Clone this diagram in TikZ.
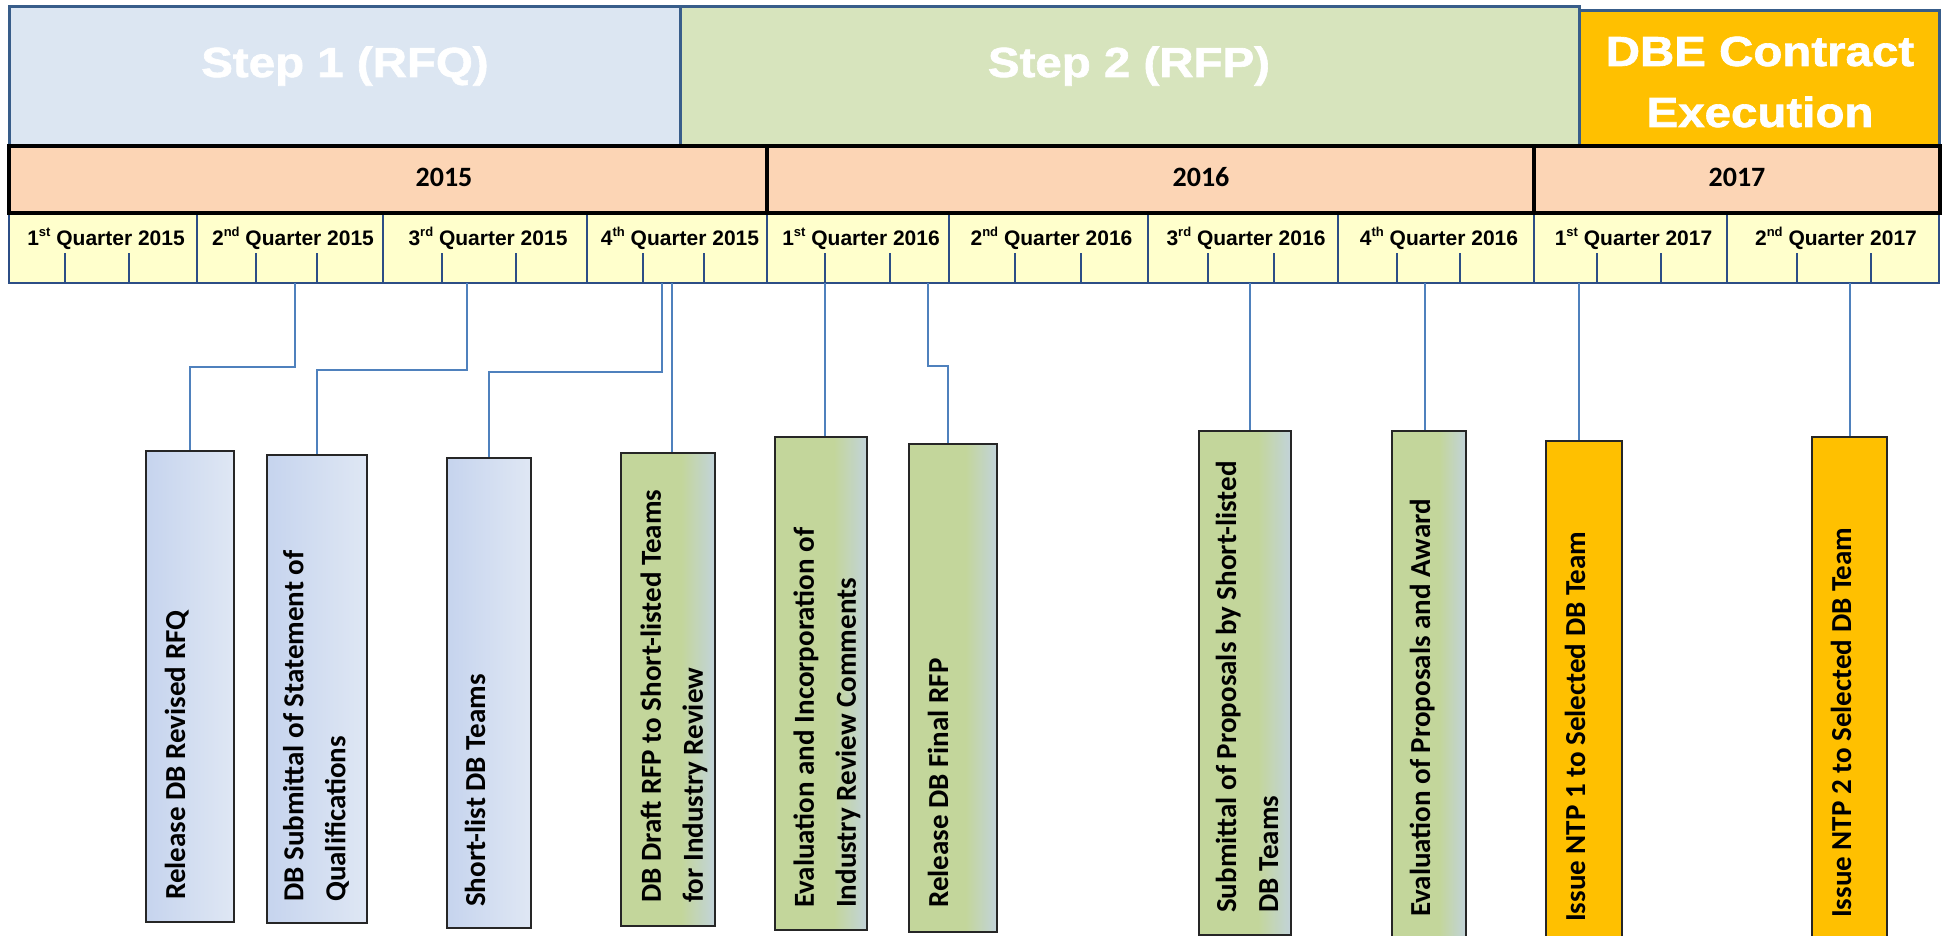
\documentclass[tikz,border=0pt]{standalone}
\usepackage{fontspec}
\setmainfont{Liberation Sans}
\newfontfamily\barfont{Carlito}
\newfontfamily\stepfont{Liberation Sans}[FakeStretch=1.13,FakeBold=1.5]
\definecolor{stepblue}{HTML}{DCE6F2}
\definecolor{stepgreen}{HTML}{D7E4BD}
\definecolor{amber}{HTML}{FFC000}
\definecolor{stepline}{HTML}{385D8A}
\definecolor{yearfill}{HTML}{FCD5B5}
\definecolor{qfill}{HTML}{FFFFCC}
\definecolor{qline}{HTML}{2C4E86}
\definecolor{linkblue}{HTML}{4F81BD}
\definecolor{barblueL}{HTML}{C6D4EE}
\definecolor{barblueR}{HTML}{DFE7F4}
\definecolor{bargreen}{HTML}{C3D69B}
\definecolor{bargrey}{HTML}{C2D3DA}
\pgfdeclarehorizontalshading{greenbar}{100bp}{color(0bp)=(bargreen); color(25bp)=(bargreen); color(57bp)=(bargreen); color(75bp)=(bargrey); color(100bp)=(bargrey)}
\newcommand{\qsup}[1]{\raisebox{0.42em}{\fontsize{13}{13}\selectfont #1}}
\tikzstyle{phase}=[draw=stepline,line width=3pt]
\tikzstyle{phasetext}=[text=white,inner sep=0pt,font=\stepfont\bfseries\fontsize{42}{61}\selectfont]
\tikzstyle{yearcell}=[draw=black,line width=4pt,fill=yearfill]
\tikzstyle{yeartext}=[inner sep=0pt,font=\barfont\bfseries\fontsize{28}{34}\selectfont]
\tikzstyle{qcell}=[draw=qline,line width=2.5pt,fill=qfill]
\tikzstyle{qtext}=[inner sep=0pt,font=\bfseries\fontsize{21}{25}\selectfont]
\tikzstyle{qtick}=[draw=qline,line width=2.5pt]
\tikzstyle{link}=[draw=linkblue,line width=1.5pt]
\tikzstyle{bar}=[draw=black!85,line width=2pt,inner sep=0pt]
\tikzstyle{bluebar}=[left color=barblueL,right color=barblueR]
\tikzstyle{greenfill}=[shade,shading=greenbar]
\tikzstyle{ntpbar}=[fill=amber]
\tikzstyle{bartext}=[rotate=90,inner sep=0pt,align=left,font=\barfont\bfseries\fontsize{29}{42}\selectfont]

\begin{document}
\begin{tikzpicture}[x=1pt,y=-1pt]
    \useasboundingbox (0,0) rectangle (1946,936);
    \clip (0,0) rectangle (1946,936);
    % phase bands on top
    \draw[phase,fill=stepblue] (9,7) rectangle (680,146);
    \draw[phase,fill=stepgreen] (680,7) rectangle (1579,146);
    \draw[phase,fill=amber] (1579,11) rectangle (1939,146);
    \node[phasetext,anchor=base] (step1) at (345,77) {Step 1 (RFQ)};
    \node[phasetext,anchor=base] (step2) at (1129,77) {Step 2 (RFP)};
    \node[phasetext,align=center] (dbe) at (1760,82) {DBE Contract\\Execution};
    % quarters, then the ticks in them
    \foreach \xa/\xb/\name/\txt in {9/197/q1/{1\qsup{st} Quarter 2015}, 197/383/q2/{2\qsup{nd} Quarter 2015},
        383/587/q3/{3\qsup{rd} Quarter 2015}, 587/767/q4/{4\qsup{th} Quarter 2015},
        767/949/q5/{1\qsup{st} Quarter 2016}, 949/1148/q6/{2\qsup{nd} Quarter 2016},
        1148/1338/q7/{3\qsup{rd} Quarter 2016}, 1338/1534/q8/{4\qsup{th} Quarter 2016},
        1534/1727/q9/{1\qsup{st} Quarter 2017}, 1727/1939/q10/{2\qsup{nd} Quarter 2017}}
    {
        \draw[qcell] (\xa,213) rectangle (\xb,283);
        \node[qtext,anchor=base] (\name) at ({(\xa+\xb)/2+3},245) {\txt};
    }
    \foreach \x in {65,129,256,317,442,516,643,704,825,890,1015,1081,1208,1274,1397,1460,1597,1661,1797,1871}
        \draw[qtick] (\x,253) -- (\x,283);
    % years
    \foreach \xa/\xb/\tx/\yr in {9/767/444/2015, 767/1534/1201/2016, 1534/1940/1737/2017}
    {
        \draw[yearcell] (\xa,146) rectangle (\xb,213);
        \node[yeartext,anchor=base] (y\yr) at (\tx,187) {\yr};
    }
    % activity bars
    \foreach \n/\xa/\xb/\ya/\yb/\look in {1/146/234/451/922/bluebar, 2/267/367/455/923/bluebar,
        3/447/531/458/928/bluebar, 4/621/715/453/926/greenfill, 5/775/867/437/930/greenfill,
        6/909/997/444/932/greenfill, 7/1199/1291/431/935/greenfill, 8/1392/1466/431/950/greenfill,
        9/1546/1622/441/950/ntpbar, 10/1812/1887/437/950/ntpbar}
        \node[bar,\look,minimum width={\xb-\xa},minimum height={\yb-\ya}] (b\n) at ({(\xa+\xb)/2},{(\ya+\yb)/2}) {};
    \node[bartext,anchor=base west] (l1) at (185,900) {Release DB Revised RFQ};
    \node[bartext,anchor=west] (l2) at (316,902) {DB Submittal of Statement of\\Qualifications};
    \node[bartext,anchor=base west] (l3) at (485,907) {Short-list DB Teams};
    \node[bartext,anchor=west] (l4) at (674,903) {DB Draft RFP to Short-listed Teams\\for Industry Review};
    \node[bartext,anchor=west] (l5) at (827,908) {Evaluation and Incorporation of\\Industry Review Comments};
    \node[bartext,anchor=base west] (l6) at (948,908) {Release DB Final RFP};
    \node[bartext,anchor=west] (l7) at (1247,913) {Submittal of Proposals by Short-listed\\DB Teams};
    \node[bartext,anchor=base west] (l8) at (1430,917) {Evaluation of Proposals and Award};
    \node[bartext,anchor=base west] (l9) at (1585,922) {Issue NTP 1 to Selected DB Team};
    \node[bartext,anchor=base west] (l10) at (1851,918) {Issue NTP 2 to Selected DB Team};
    % connectors from the time line down to the bars
    \foreach \n/\x in {1/295,2/467,3/662,4/672,5/825,6/928,7/1250,8/1425,9/1579,10/1850}
        \coordinate (t\n) at (\x,283);
    \draw[link] (t1) -- ++(0,84) -| (b1.north);
    \draw[link] (t2) -- ++(0,87) -| (b2.north);
    \draw[link] (t3) -- ++(0,89) -| (b3.north);
    \draw[link] (t6) -- ++(0,83) -| ([xshift=-5pt]b6.north);
    \foreach \n in {4,5,7,8,9,10}
        \draw[link] (t\n) -- (t\n |- b\n.north);
\end{tikzpicture}
\end{document}
